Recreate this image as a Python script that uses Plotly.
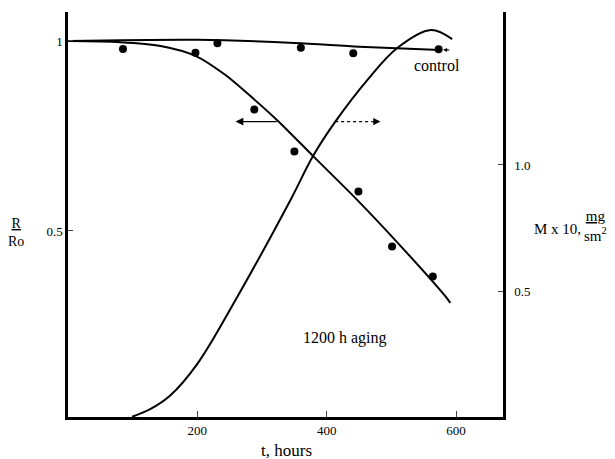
import plotly.graph_objects as go

# ---- data ----
# measured R/Ro points, 1200 h aging
aging_t = [85, 197, 231, 288, 350, 449, 501, 564]
aging_r = [0.979, 0.969, 0.994, 0.820, 0.709, 0.604, 0.459, 0.380]
# control points
control_t = [360, 441, 573]
control_r = [0.982, 0.968, 0.978]
# fitted R/Ro curve (aging)
fit_r_t = [0, 81, 143, 197, 243, 282, 325, 379, 447, 514, 583, 591]
fit_r_v = [1.0, 0.997, 0.987, 0.961, 0.911, 0.855, 0.789, 0.697, 0.582, 0.461, 0.329, 0.311]
# control curve
ctrl_t = [0, 200, 350, 450, 575]
ctrl_v = [1.0, 1.003, 0.995, 0.985, 0.976]
# mass gain curve M x 10 (right axis)
mass_t = [99, 127, 158, 200, 259, 344, 379, 413, 463, 509, 561, 594]
mass_v = [0.006, 0.036, 0.090, 0.215, 0.467, 0.862, 1.036, 1.170, 1.336, 1.462, 1.533, 1.497]

x_ticks = [200, 400, 600]
x_labels = ["200", "400", "600"]
yl_ticks = [0.5, 1.0]
yl_labels = ["0.5", "1"]
yr_ticks = [0.5, 1.0]
yr_labels = ["0.5", "1.0"]

FONT = "Liberation Serif"
L, R, T, B = 68, 112, 12, 42
FW, FH = 615, 459
W, H = FW - L - R, FH - T - B


def px(xp, yp):
    """pixel position -> paper coordinates"""
    return (xp - L) / W, (FH - B - yp) / H


fig = go.Figure()
fig.add_trace(go.Scatter(x=ctrl_t, y=ctrl_v, mode="lines",
                         line=dict(color="black", width=2, shape="spline", smoothing=0.8)))
fig.add_trace(go.Scatter(x=fit_r_t, y=fit_r_v, mode="lines",
                         line=dict(color="black", width=2, shape="spline", smoothing=0.8)))
fig.add_trace(go.Scatter(x=aging_t, y=aging_r, mode="markers", marker=dict(color="black", size=8)))
fig.add_trace(go.Scatter(x=control_t, y=control_r, mode="markers", marker=dict(color="black", size=8)))
fig.add_trace(go.Scatter(x=mass_t, y=mass_v, mode="lines", yaxis="y2",
                         line=dict(color="black", width=2, shape="spline", smoothing=1.0)))

fig.update_layout(
    width=FW, height=FH,
    margin=dict(l=L, r=R, t=T, b=B),
    paper_bgcolor="white", plot_bgcolor="white",
    showlegend=False,
    font=dict(family=FONT, color="black", size=13),
    xaxis=dict(range=[0, 672.5], showgrid=False, zeroline=False, showline=True,
               linecolor="black", linewidth=2.5, ticks="inside", ticklen=6, tickwidth=1,
               tickvals=x_ticks, ticktext=x_labels, tickfont=dict(size=13, family=FONT)),
    yaxis=dict(range=[0.0105, 1.0763], showgrid=False, zeroline=False, showline=True,
               linecolor="black", linewidth=2.5, ticks="inside", ticklen=5, tickwidth=1,
               tickvals=yl_ticks, ticktext=yl_labels, tickfont=dict(size=13, family=FONT)),
    yaxis2=dict(range=[0.005, 1.604], overlaying="y", side="right", showgrid=False,
                zeroline=False, showline=True, linecolor="black", linewidth=2.5,
                ticks="inside", ticklen=5, tickwidth=1, ticklabelstandoff=6,
                tickvals=yr_ticks, ticktext=yr_labels, tickfont=dict(size=13, family=FONT)),
)

# horizontal arrows
fig.add_annotation(x=259, y=0.788, ax=325, ay=0.788, xref="x", yref="y", axref="x", ayref="y",
                   showarrow=True, arrowhead=2, arrowsize=1.2, arrowwidth=1.3, arrowcolor="black", text="")
fig.add_shape(type="line", x0=413, x1=470, y0=0.788, y1=0.788, xref="x", yref="y",
              line=dict(color="black", width=1.2, dash="dot"))
fig.add_annotation(x=483, y=0.788, ax=468, ay=0.788, xref="x", yref="y", axref="x", ayref="y",
                   showarrow=True, arrowhead=2, arrowsize=1.2, arrowwidth=1.2, arrowcolor="black", text="")
# little arrow at last control point
fig.add_annotation(x=580, y=0.977, ax=592, ay=0.976, xref="x", yref="y", axref="x", ayref="y",
                   showarrow=True, arrowhead=2, arrowsize=0.8, arrowwidth=1, arrowcolor="black", text="")

# texts
x0, y0 = px(437, 65)
fig.add_annotation(x=x0, y=y0, xref="paper", yref="paper", text="control", showarrow=False,
                   xanchor="center", yanchor="middle", font=dict(size=16, family=FONT))
x0, y0 = px(345, 338)
fig.add_annotation(x=x0, y=y0, xref="paper", yref="paper", text="1200 h aging", showarrow=False,
                   xanchor="center", yanchor="middle", font=dict(size=16, family=FONT))
x0, y0 = px(286, 450)
fig.add_annotation(x=x0, y=y0, xref="paper", yref="paper", text="t, hours", showarrow=False,
                   xanchor="center", yanchor="middle", font=dict(size=17, family=FONT))
x0, y0 = px(16, 232)
fig.add_annotation(x=x0, y=y0, xref="paper", yref="paper", text="<u>R</u><br>Ro", showarrow=False,
                   xanchor="center", yanchor="middle", font=dict(size=14, family=FONT))
x0, y0 = px(583, 229)
fig.add_annotation(x=x0, y=y0, xref="paper", yref="paper", text="M x 10,", showarrow=False,
                   xanchor="right", yanchor="middle", font=dict(size=15, family=FONT))
x0, y0 = px(582, 226)
fig.add_annotation(x=x0, y=y0, xref="paper", yref="paper", text="<u>mg</u><br>sm<sup>2</sup>",
                   showarrow=False, xanchor="left", yanchor="middle", font=dict(size=15, family=FONT))

fig.write_html("out.html", config={"displayModeBar": False},
               post_script="document.body.style.margin='0';")
